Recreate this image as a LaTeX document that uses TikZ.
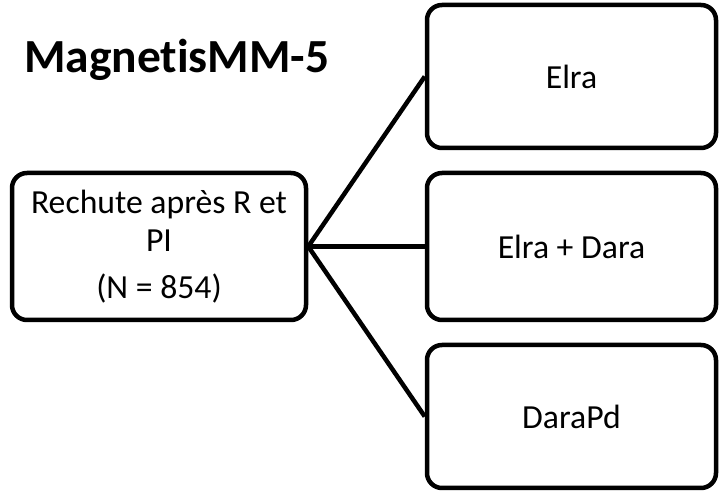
\documentclass[tikz,border=0pt]{standalone}
\usepackage{fontspec}
\setmainfont[Ligatures=NoCommon]{Carlito}
\begin{document}
\begin{tikzpicture}[x=1pt,y=-1pt,
  box/.style={draw=black, line width=4.5pt, rounded corners=15pt, fill=white,
    inner sep=0pt, align=center, font=\fontsize{33.7}{38}\selectfont},
  link/.style={draw=black, line width=4.5pt}]
  \useasboundingbox (0,0) rectangle (721,494);
  % source box
  \node[box, minimum width=294pt, minimum height=147pt] (src) at (159,246.5)
    {Rechute après R et\\PI\\[9pt](N = 854)};
  % treatment arms
  \node[box, minimum width=289pt, minimum height=143pt] (a1) at (571.5,76.5) {Elra};
  \node[box, minimum width=289pt, minimum height=147pt] (a2) at (571.5,246.5) {Elra + Dara};
  \node[box, minimum width=289pt, minimum height=143pt] (a3) at (571.5,416.5) {DaraPd};
  % connectors
  \draw[link] (src.east) -- (a1.west);
  \draw[link] (src.east) -- (a2.west);
  \draw[link] (src.east) -- (a3.west);
  % title
  \node[anchor=base west, inner sep=0pt, font=\fontsize{47.5}{56}\bfseries\selectfont] (title) at (24,73) {MagnetisMM-5};
\end{tikzpicture}
\end{document}
